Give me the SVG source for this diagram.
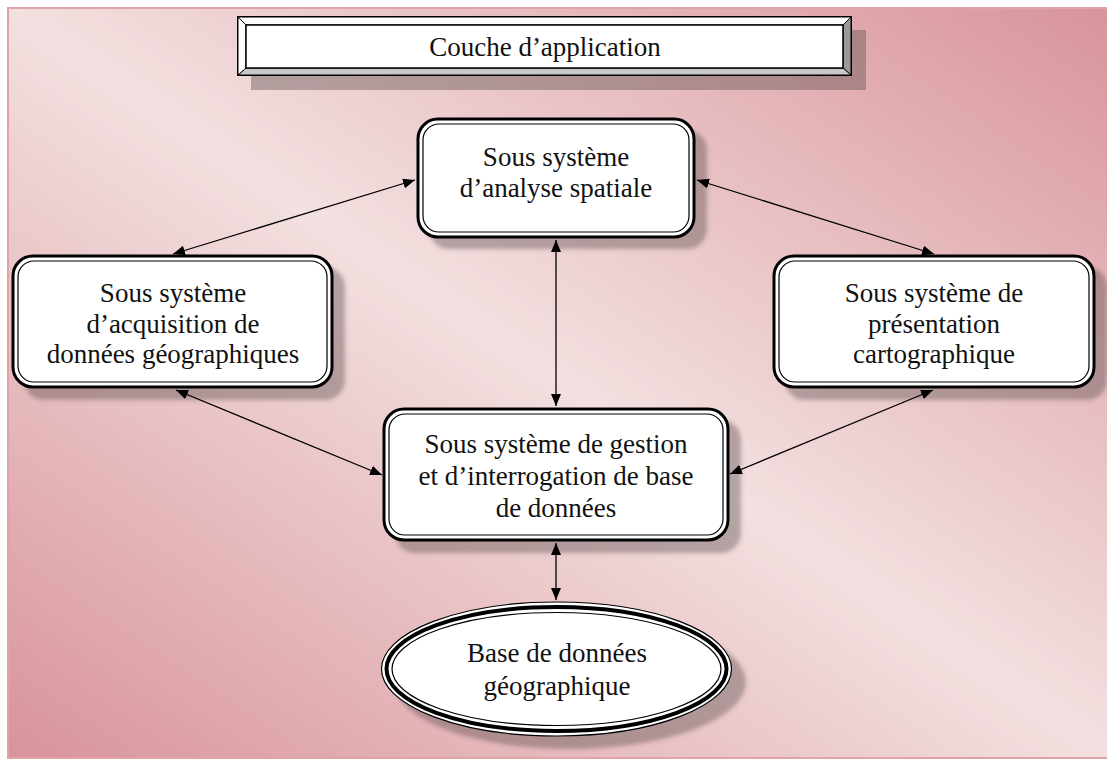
<svg xmlns="http://www.w3.org/2000/svg" width="1107" height="759" viewBox="0 0 1107 759">
  <defs>
    <linearGradient id="bg" x1="1" y1="0" x2="0" y2="1">
      <stop offset="0" stop-color="#d8939a"/>
      <stop offset="0.5" stop-color="#f3e0e0"/>
      <stop offset="1" stop-color="#d8939a"/>
    </linearGradient>
    <filter id="blur" x="-10%" y="-10%" width="120%" height="130%">
      <feGaussianBlur stdDeviation="2"/>
    </filter>
    <marker id="ah" viewBox="0 0 12 10" refX="12" refY="5" markerWidth="12" markerHeight="10" markerUnits="userSpaceOnUse" orient="auto-start-reverse">
      <path d="M0,0 L12,5 L0,10 Z" fill="#000"/>
    </marker>
  </defs>
  <style>
    .lbl { font-family: "Liberation Serif", "Times New Roman", serif; font-size: 27px; fill: #111; text-anchor: middle; }
    .shadow { fill: #5a4a4a; fill-opacity: 0.4; filter: url(#blur); }
    .outer { fill: #fff; stroke: #000; stroke-width: 3; }
    .inner { fill: none; stroke: #000; stroke-width: 1.2; }
    .conn { stroke: #000; stroke-width: 1.3; fill: none; marker-start: url(#ah); marker-end: url(#ah); }
  </style>

  <rect x="8" y="8" width="1110" height="750" fill="url(#bg)" stroke="#e0a3a6" stroke-width="2"/>

  <g id="couche">
    <rect x="251" y="30" width="615" height="60" fill="#5a4a4a" fill-opacity="0.4"/>
    <rect x="238" y="17" width="613" height="58" fill="#fff" stroke="#000" stroke-width="2"/>
    <polygon points="843,25 851,17 851,75 843,68" fill="#9a9a9a" stroke="#000" stroke-width="1"/>
    <polygon points="246,68 843,68 851,75 238,75" fill="#c8c8c8" stroke="#000" stroke-width="1"/>
    <polygon points="238,17 851,17 843,25 246,25" fill="#fff" stroke="#000" stroke-width="1"/>
    <polygon points="238,17 246,25 246,68 238,75" fill="#fff" stroke="#000" stroke-width="1"/>
    <rect x="246" y="25" width="597" height="43" fill="#fff" stroke="#000" stroke-width="1.5"/>
    <text class="lbl" x="545" y="56">Couche d’application</text>
  </g>

  <g id="analyse">
    <rect class="shadow" x="429" y="130" width="278" height="119" rx="20"/>
    <rect class="outer" x="418" y="119" width="276" height="118" rx="20"/>
    <rect class="inner" x="423" y="124" width="266" height="108" rx="16"/>
    <text class="lbl" x="556" y="166">Sous système</text>
    <text class="lbl" x="556" y="197">d’analyse spatiale</text>
  </g>

  <g id="acquisition">
    <rect class="shadow" x="24" y="267" width="321" height="133" rx="20"/>
    <rect class="outer" x="13" y="256" width="319" height="131" rx="20"/>
    <rect class="inner" x="18" y="261" width="309" height="121" rx="16"/>
    <text class="lbl" x="173" y="302">Sous système</text>
    <text class="lbl" x="173" y="333">d’acquisition de</text>
    <text class="lbl" x="173" y="363">données géographiques</text>
  </g>

  <g id="presentation">
    <rect class="shadow" x="785" y="267" width="322" height="133" rx="20"/>
    <rect class="outer" x="774" y="256" width="320" height="131" rx="20"/>
    <rect class="inner" x="779" y="261" width="310" height="121" rx="16"/>
    <text class="lbl" x="934" y="302">Sous système de</text>
    <text class="lbl" x="934" y="333">présentation</text>
    <text class="lbl" x="934" y="363">cartographique</text>
  </g>

  <g id="gestion">
    <rect class="shadow" x="395" y="420" width="346" height="133" rx="20"/>
    <rect class="outer" x="384" y="409" width="344" height="131" rx="20"/>
    <rect class="inner" x="389" y="414" width="334" height="121" rx="16"/>
    <text class="lbl" x="556" y="453">Sous système de gestion</text>
    <text class="lbl" x="556" y="485">et d’interrogation de base</text>
    <text class="lbl" x="556" y="517">de données</text>
  </g>

  <g id="base">
    <ellipse class="shadow" cx="570" cy="682" rx="176" ry="67"/>
    <ellipse cx="556.5" cy="669" rx="175" ry="67" fill="#fff" stroke="#000" stroke-width="1.2"/>
    <ellipse cx="556.5" cy="669" rx="170" ry="62" fill="none" stroke="#000" stroke-width="4"/>
    <ellipse cx="556.5" cy="669" rx="164.5" ry="56.5" fill="none" stroke="#000" stroke-width="1.2"/>
    <text class="lbl" x="557" y="662">Base de données</text>
    <text class="lbl" x="557" y="695">géographique</text>
  </g>

  <g id="connectors">
    <line class="conn" x1="415" y1="180" x2="173" y2="254"/>
    <line class="conn" x1="697" y1="180" x2="934" y2="254"/>
    <line class="conn" x1="556" y1="240" x2="556" y2="406"/>
    <line class="conn" x1="176" y1="390" x2="382" y2="475"/>
    <line class="conn" x1="933" y1="390" x2="730" y2="474"/>
    <line class="conn" x1="556" y1="543" x2="556" y2="600"/>
  </g>
</svg>
